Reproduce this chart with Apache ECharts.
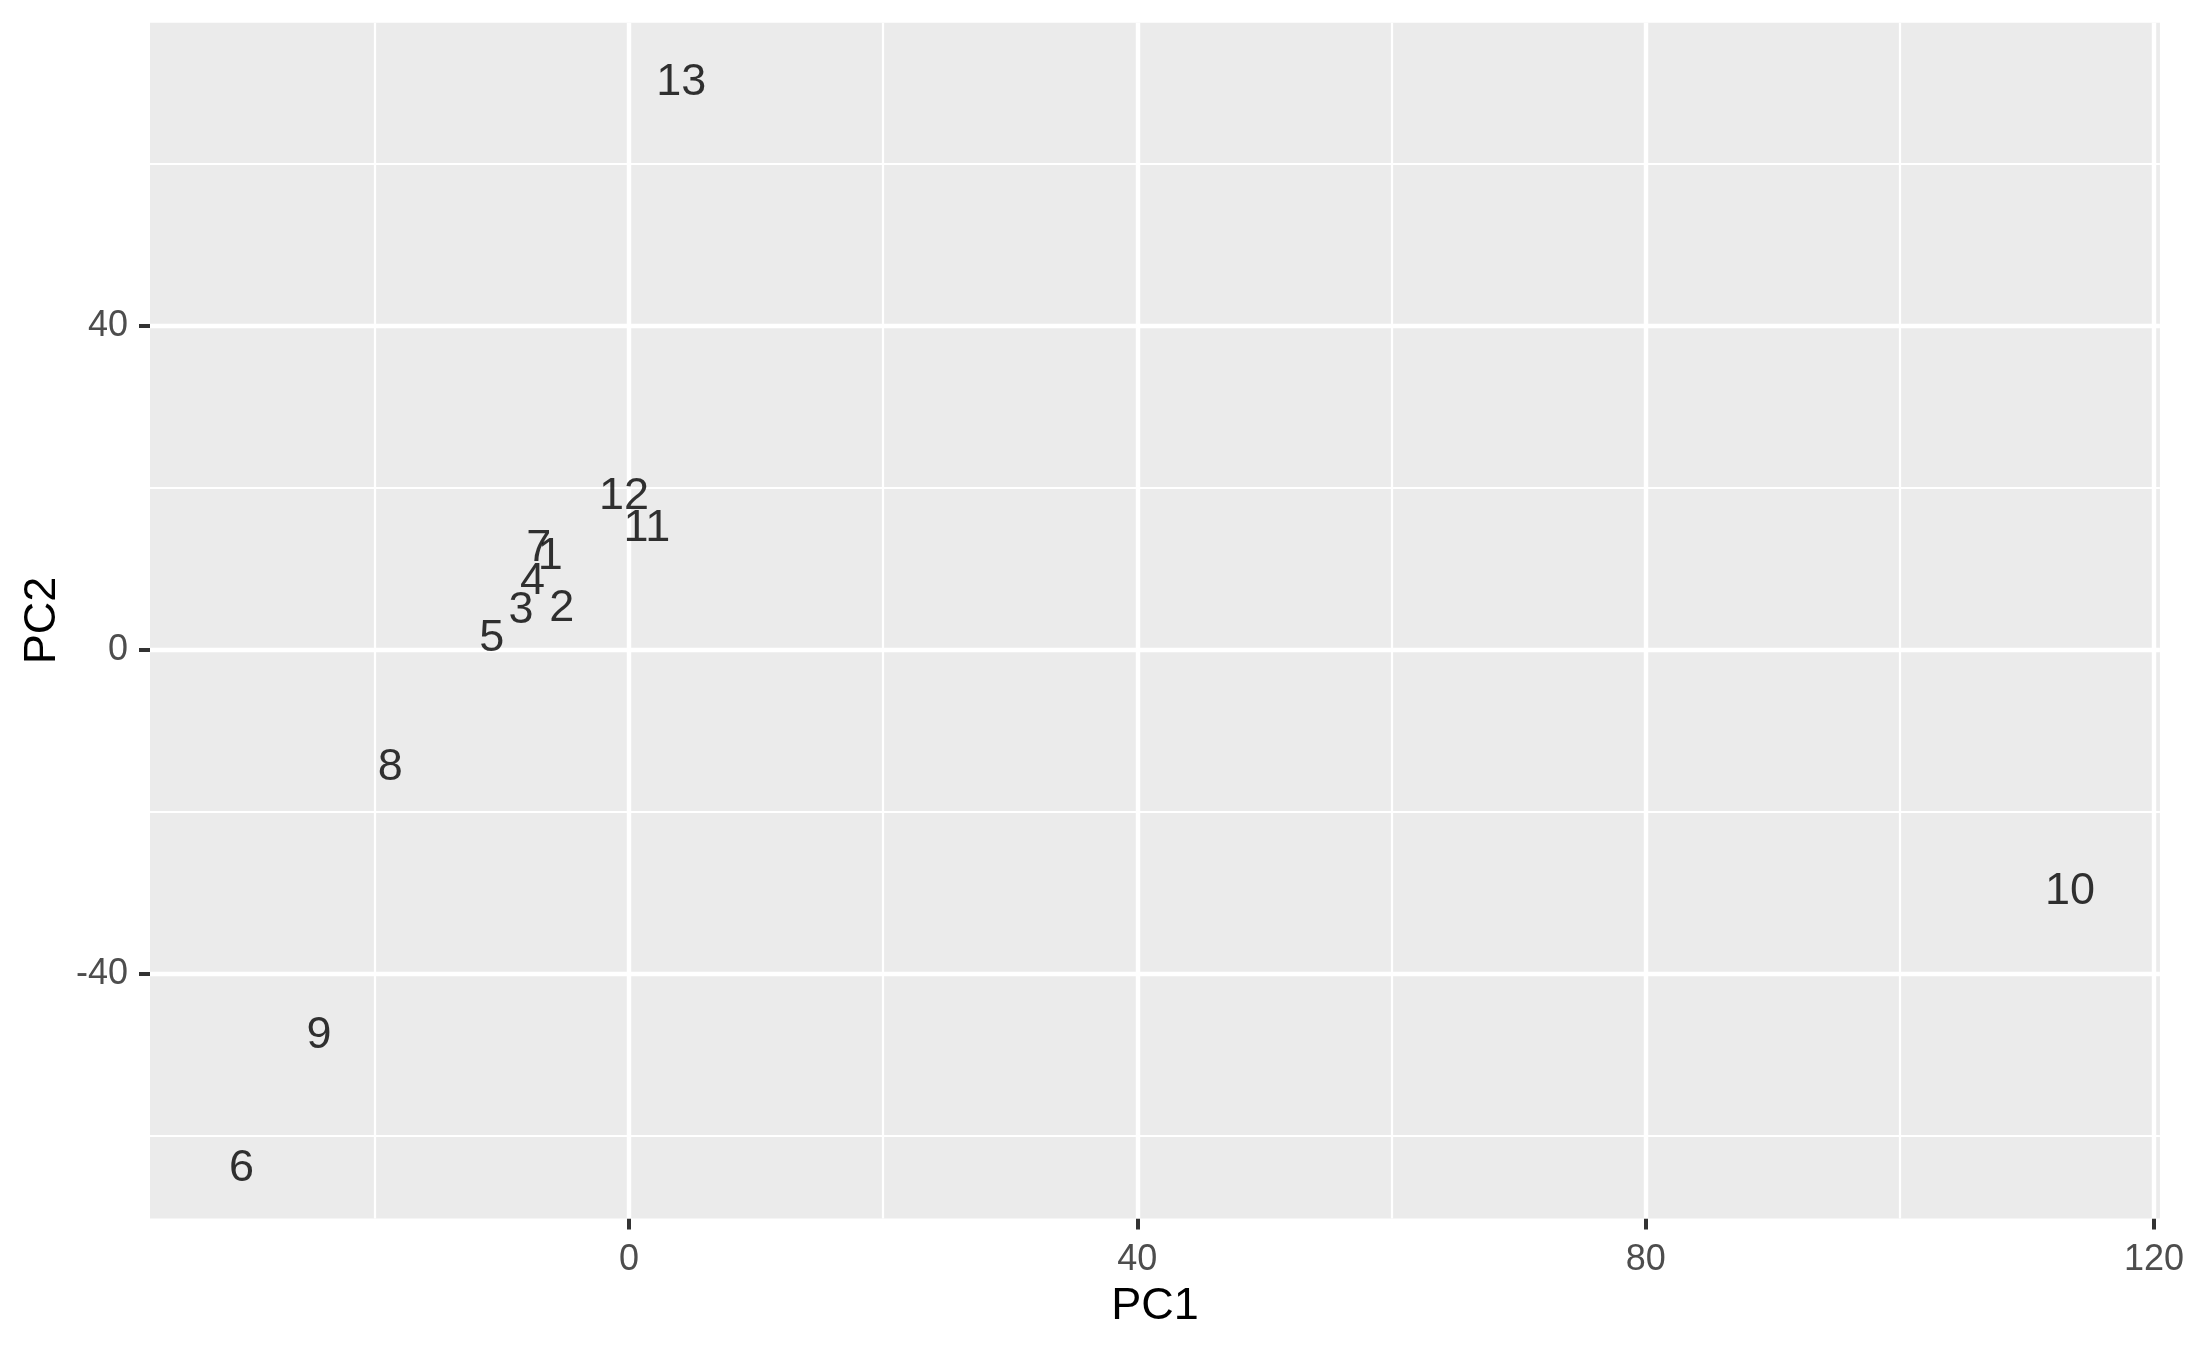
<!DOCTYPE html>
<html>
<head>
<meta charset="utf-8">
<script src="https://cdn.jsdelivr.net/npm/echarts@6/dist/echarts.min.js"></script>
<style>
html,body{margin:0;padding:0;background:#fff;}
#c{width:2187px;height:1350px;}
</style>
</head>
<body>
<div id="c"></div>
<script>
const labels = ['1','2','3','4','5','6','7','8','9','10','11','12','13'];
const pc1 = [-6.2, -5.3, -8.5, -7.6, -10.8, -30.5, -7.1, -18.8, -24.4, 113.4, 1.4, -0.4, 4.1];
const pc2 = [12.0, 5.6, 5.3, 8.9, 1.9, -63.6, 13.0, -14.0, -47.2, -29.4, 15.5, 19.4, 70.5];
const xTicks = [0, 40, 80, 120];
const yTicks = [-40, 0, 40];
const xMinor = [-20, 20, 60, 100];
const yMinor = [-60, -20, 20, 60];

const X_MIN = -37.7, X_MAX = 120.47, Y_MIN = -70.22, Y_MAX = 77.42;
const FONT = '"Liberation Sans", Arial, Helvetica, sans-serif';

const chart = echarts.init(document.getElementById('c'), null, {renderer: 'canvas'});

const data = pc1.map((x, i) => [x, pc2[i], labels[i]]);

const gridLines = [].concat(
  xMinor.map(v => ({xAxis: v, lineStyle: {color: '#FFFFFF', width: 2.2, type: 'solid'}})),
  yMinor.map(v => ({yAxis: v, lineStyle: {color: '#FFFFFF', width: 2.2, type: 'solid'}})),
  xTicks.map(v => ({xAxis: v, lineStyle: {color: '#FFFFFF', width: 4.4, type: 'solid'}})),
  yTicks.map(v => ({yAxis: v, lineStyle: {color: '#FFFFFF', width: 4.4, type: 'solid'}}))
);

chart.setOption({
  animation: false,
  backgroundColor: '#FFFFFF',
  grid: {left: 150, right: 23.3, top: 22.7, bottom: 131.5, show: true, backgroundColor: '#EBEBEB', borderWidth: 0, containLabel: false},
  xAxis: {
    type: 'value', min: X_MIN, max: X_MAX,
    name: 'PC1', nameLocation: 'middle', nameGap: 66,
    nameTextStyle: {fontFamily: FONT, fontSize: 45, color: '#000'},
    axisLine: {show: false, onZero: false},
    axisTick: {show: true, customValues: xTicks, length: 11, lineStyle: {color: '#333333', width: 4}},
    axisLabel: {show: true, customValues: xTicks, margin: 24, fontFamily: FONT, fontSize: 36, color: '#4D4D4D',
      alignMinLabel: 'center', alignMaxLabel: 'center', hideOverlap: false},
    splitLine: {show: false}
  },
  yAxis: {
    type: 'value', min: Y_MIN, max: Y_MAX,
    name: 'PC2', nameLocation: 'middle', nameGap: 84, nameRotate: 90,
    nameTextStyle: {fontFamily: FONT, fontSize: 45, color: '#000'},
    axisLine: {show: false, onZero: false},
    axisTick: {show: true, customValues: yTicks, length: 11, lineStyle: {color: '#333333', width: 4}},
    axisLabel: {show: true, customValues: yTicks, margin: 22, fontFamily: FONT, fontSize: 36, color: '#4D4D4D',
      padding: [8, 0, 0, 0]},
    splitLine: {show: false}
  },
  series: [{
    type: 'scatter',
    data: [],
    silent: true,
    z: 1,
    markLine: {
      silent: true,
      symbol: ['none', 'none'],
      label: {show: false},
      animation: false,
      emphasis: {disabled: true},
      data: gridLines
    }
  }, {
    type: 'scatter',
    data: data,
    symbolSize: 1,
    itemStyle: {color: 'rgba(0,0,0,0)'},
    label: {show: true, position: 'inside', offset: [0, 4], formatter: p => p.value[2],
      fontFamily: FONT, fontSize: 45, color: '#000000'},
    emphasis: {disabled: true},
    z: 10
  }]
});
</script>
</body>
</html>
